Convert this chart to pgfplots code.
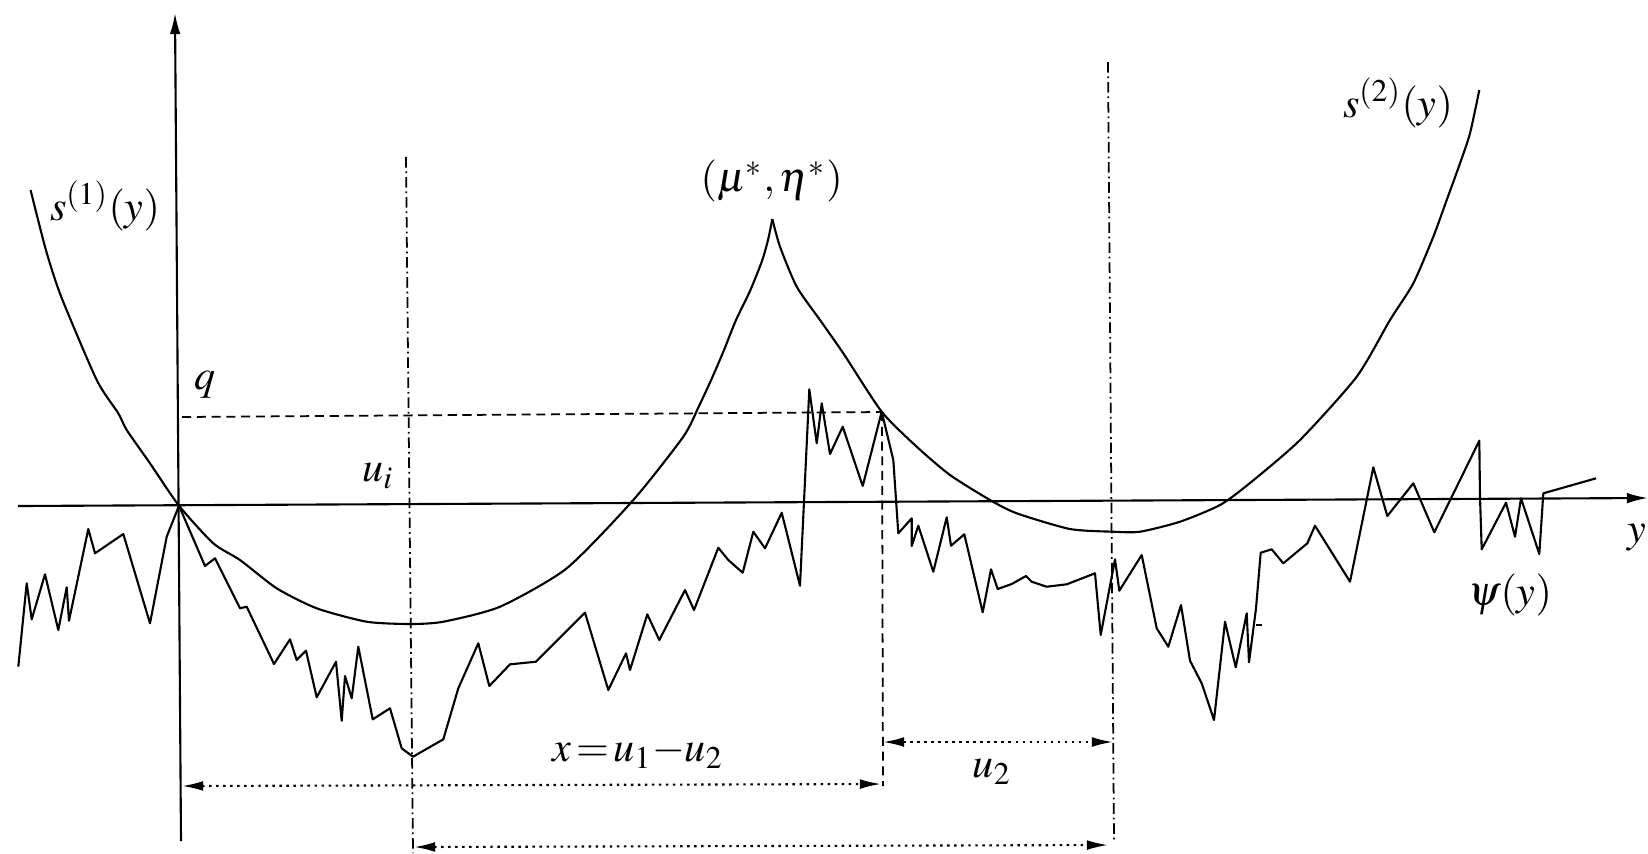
\documentclass[border=0pt]{standalone}
\usepackage{mathptmx}
\usepackage{pgfplots}
\pgfplotsset{compat=1.18}
\usetikzlibrary{arrows.meta}
\tikzset{lab/.style={font=\fontsize{12}{14}\selectfont}}
\begin{document}
\begin{tikzpicture}
\begin{axis}[scale only axis, width=16.48cm, height=8.53cm,
  xmin=0, xmax=1648, ymin=0, ymax=853, y dir=reverse,
  hide axis, clip=false,
  cycle list={{black,mark=none}},
  every axis plot/.append style={line width=0.6pt, black, mark=none, line join=round}]
% axes
\addplot[black,-{Latex[length=6pt,width=3pt]}] coordinates {(181,841) (175,13)};
\addplot[black,-{Latex[length=6pt,width=3pt]}] coordinates {(18,506) (1648,498)};
% reference lines
\addplot[black,line width=0.5pt, dash pattern=on 2.6pt off 1.6pt] coordinates {(182,417) (882,412)};
\addplot[black,line width=0.5pt, dash pattern=on 2.6pt off 1.6pt] coordinates {(882,412) (883,786)};
\addplot[black,line width=0.5pt, dash pattern=on 3pt off 1.1pt on 0.5pt off 1.1pt] coordinates {(406,157) (413,853)};
\addplot[black,line width=0.5pt, dash pattern=on 3pt off 1.1pt on 0.5pt off 1.1pt] coordinates {(1108,62) (1114,842)};
% dimension arrows
\addplot[black,line width=0.6pt, dash pattern=on 0.7pt off 1.3pt, {Latex[length=6pt,width=2.8pt]}-{Latex[length=6pt,width=2.8pt]}] coordinates {(182,786) (881,784)};
\addplot[black,line width=0.6pt, dash pattern=on 0.7pt off 1.3pt, {Latex[length=6pt,width=2.8pt]}-{Latex[length=6pt,width=2.8pt]}] coordinates {(883,742) (1113,742)};
\addplot[black,line width=0.6pt, dash pattern=on 0.7pt off 1.3pt, {Latex[length=6pt,width=2.8pt]}-{Latex[length=6pt,width=2.8pt]}] coordinates {(414,847) (1108,845)};
% s^(1)
\addplot[black,smooth, tension=0.4] coordinates {
(30.6,190) (45.9,250) (61.2,296.7) (96.7,380) (118.3,413.3) (126.7,430) (150,463.3)
(179,505.7) (213.3,543.3) (240,560) (276.7,588.3) (316.7,608.3) (366.7,621.7) (410,624)
(443.3,621.7) (500,606.7) (566.7,568.3) (633.3,500) (683.3,436.7) (699,406) (712,378)
(724,350) (736,320) (750,291) (762,261) (768,240) (772.3,219)};
% s^(2)
\addplot[black,smooth, tension=0.4] coordinates {
(772.3,219) (780,246.7) (796.7,286.7) (820,320) (843.3,353.3) (881.7,411.7) (916.7,446.7)
(950,475) (990,500) (1016.7,513.3) (1070,529) (1113,531.7) (1140,531.7) (1180,521.7)
(1220,505) (1250,483) (1300,440) (1356.7,376.7) (1390,320) (1413.3,283.3) (1433.3,236.7)
(1446.7,200) (1460,163.3) (1470,133.3) (1479.3,90)};
% psi(y)
\addplot[black] coordinates {
(18.3,666.7) (26.7,583.3) (31.7,619.3) (45,574.3) (58.3,630) (66.7,587.3) (69,620.7)
(88.3,529) (95,553.3) (123.3,534) (150,623.3) (166.7,536.7) (179,505.7) (205,566)
(215,558.3) (240,608.3) (246.7,606.7) (274,664) (290,639.3) (296.7,660) (306,650.7)
(316.7,697.3) (336,661.7) (341.7,720.7) (345,676) (351.7,698.3) (358.3,646.7) (372.7,719.3)
(390,708.3) (401.7,748.3) (413,756.7) (443.3,739.3) (458.3,688.3) (478.3,643.3) (489.3,686)
(510,664.3) (536,661.7) (585,612.7) (608.3,690) (626,653.3) (630,670) (647.3,614.3)
(659.3,640) (685,590) (694,610) (718.3,547.7) (728.3,560) (742.7,572.7) (753.3,531.7)
(765,548.3) (781.7,512.7) (800,585.7) (809.3,389.3) (816.7,443.3) (821.7,403.3) (830,454)
(842.7,426.7) (862.7,486) (881.7,411.7) (893.3,460) (898.3,533.3) (911.7,518.3) (911.7,546)
(918.3,525.7) (933.3,571.7) (946.7,517.3) (951,545.7) (964.3,534.3) (982.7,612.3) (991,569.3)
(997.7,589) (1011.7,584) (1026,576) (1031.7,581.7) (1046.7,586.7) (1066.7,584.3) (1095,573.3)
(1100.7,635) (1115,559.3) (1119.3,590.7) (1141.7,555) (1156.7,628.3) (1168.3,646.7) (1181,605)
(1190,660.7) (1201.7,683.3) (1214,720) (1225,621.7) (1235.7,667.3) (1246.7,613.3) (1249,662.3)
(1256,608.3) (1260.7,552.7) (1271.7,549.3) (1283.3,563.3) (1307.3,543.3) (1315,525.7) (1350,581.7)
(1373.3,467.3) (1387.3,516) (1413.3,483.3) (1434.3,532.3) (1479.3,440.7) (1480,497.3) (1481.7,549.3)
(1506,502.7) (1515,536.7) (1521,498.3) (1539.3,554) (1543.3,493.3) (1596,478.3)};
\addplot[black] coordinates {(1256,625) (1262,625)};
% labels
\node[lab] at (axis cs:105,206) {$s^{(1)}(y)$};
\node[lab] at (axis cs:205,385) {$q$};
\node[lab] at (axis cs:378,476) {$u_i$};
\node[lab] at (axis cs:771.7,181) {$(\mu^*,\eta^*)$};
\node[lab] at (axis cs:1398,103) {$s^{(2)}(y)$};
\node[lab] at (axis cs:1510,595) {$\psi(y)$};
\node[lab] at (axis cs:638,753) {$x\,{=}\,u_1{-}u_2$};
\node[lab] at (axis cs:992,772) {$u_2$};
\node[lab] at (axis cs:1637,538) {$y$};
\end{axis}
\pgfresetboundingbox
\path (0,0) rectangle (16.48cm,8.53cm);
\end{tikzpicture}
\end{document}
